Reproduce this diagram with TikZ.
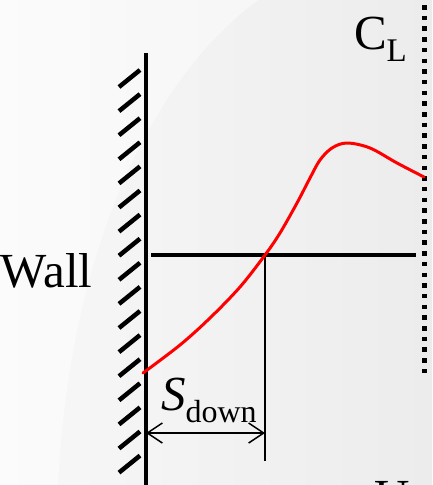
\documentclass[tikz,border=0pt]{standalone}
\usepackage{fontspec}
\setmainfont{Liberation Serif}
\usetikzlibrary{arrows.meta}
\definecolor{bgright}{RGB}{236,236,236}
\definecolor{bgleft}{RGB}{248,248,248}
\definecolor{curvered}{RGB}{255,0,0}
\tikzset{
  wallline/.style={line width=4pt},
  hatchline/.style={line width=4.5pt,line cap=butt},
  thinline/.style={line width=1.5pt},
  dimline/.style={line width=1.5pt,{Straight Barb[length=15pt,width=20pt]}-{Straight Barb[length=15pt,width=20pt]}},
  centerline/.style={line width=5pt,dash pattern=on 4.5pt off 6.2pt},
  profile/.style={curvered,line width=3pt,line cap=round},
  lbl/.style={inner sep=0pt,outer sep=0pt,font=\fontsize{49}{52}\selectfont}
}
\begin{document}
\begin{tikzpicture}[x=1pt,y=-1pt]
\useasboundingbox (0,0) rectangle (432,485);
\clip (0,0) rectangle (432,485);
% background
\shade[left color=bgleft,right color=bgright] (0,0) rectangle (432,485);
\fill[white,opacity=0.45] (0,0) -- (258,0) .. controls (150,80) and (70,250) .. (58,485) -- (0,485) -- cycle;
% wall
\coordinate (wtop) at (146,53);
\coordinate (wbot) at (146,490);
\draw[wallline] (wtop) -- (wbot);
\foreach \i in {0,...,16} {
  \draw[hatchline] (119,87+\i*24.1) -- (140,70+\i*24.1);
}
% center line
\coordinate (cltop) at (424,5);
\coordinate (clbot) at (424,373);
\draw[centerline] (cltop) -- (clbot);
% horizontal line
\coordinate (hl) at (151,255);
\coordinate (hr) at (416,255);
\draw[line width=4pt] (hl) -- (hr);
% vertical thin line
\coordinate (vt) at (265,255);
\coordinate (vb) at (265,461);
\draw[thinline] (vt) -- (vb);
% dimension
\coordinate (dl) at (146,433);
\coordinate (dr) at (265,433);
\draw[dimline] (dl) -- (dr);
% red profile
\draw[profile] plot[smooth,tension=0.55] coordinates {(143,373) (180,345) (210,318) (240,287) (265,255) (280,233) (297,203) (310,178) (320,160) (332,148) (347,143) (370,148) (397,163) (424,177)};
% labels
\node[lbl,anchor=base west] (wall) at (1,287) {Wall};
\node[lbl,anchor=base west] (cl) at (354,49) {C\raisebox{-12pt}{\fontsize{33}{36}\selectfont L}};
\node[lbl,anchor=base west] (sdown) at (161,410) {\textit{S}\raisebox{-12pt}{\fontsize{32}{34}\selectfont down}};
\node[lbl,anchor=base west] (u) at (374,513) {U};
\end{tikzpicture}
\end{document}
